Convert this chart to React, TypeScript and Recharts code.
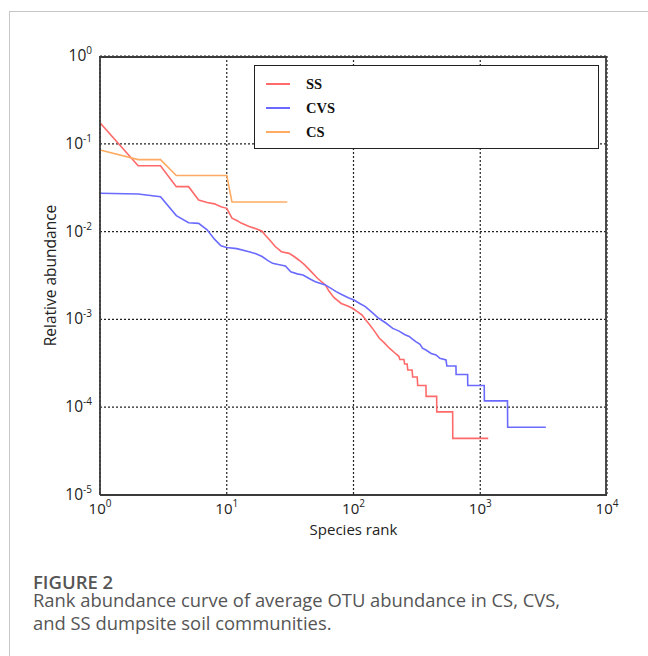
import React from "react";
import { LineChart, Line, XAxis, YAxis, CartesianGrid } from "recharts";

// rank abundance (rank, relative abundance)
const ssRank = [1, 2, 3, 4, 5, 6, 7, 8, 9, 10, 11, 12, 13, 15, 17, 19, 20, 22, 24, 27, 31, 34, 37, 41, 45, 52, 60, 64, 70, 80, 90, 98, 108, 117, 126, 135, 144, 160, 175, 192, 210, 228, 232, 250, 253, 265, 268, 290, 293, 318, 321, 373, 374, 453, 454, 606, 607, 1156];
const ssValue = [0.174, 0.0563, 0.0563, 0.0325, 0.0325, 0.0229, 0.0215, 0.0207, 0.0192, 0.0184, 0.0142, 0.0134, 0.0125, 0.0114, 0.0108, 0.0101, 0.0092, 0.0079, 0.0068, 0.0059, 0.00565, 0.0052, 0.00475, 0.0042, 0.00366, 0.00294, 0.00247, 0.0021, 0.00178, 0.00152, 0.00142, 0.00134, 0.00122, 0.00112, 0.00097, 0.00086, 0.00076, 0.00061, 0.00054, 0.00047, 0.00042, 0.00038, 0.00035, 0.00035, 0.00031, 0.00031, 0.000265, 0.000265, 0.000221, 0.000221, 0.000177, 0.000177, 0.000133, 0.000133, 0.0000885, 0.0000885, 0.0000442, 0.0000442];

const cvsRank = [1, 2, 3, 4, 5, 6, 7, 8, 9, 10, 12, 15, 17, 19, 21, 23, 26, 29, 32, 36, 40, 45, 50, 60, 73, 82, 92, 101, 112, 124, 140, 158, 180, 204, 227, 255, 275, 290, 310, 335, 350, 373, 410, 448, 480, 537, 545, 643, 645, 795, 797, 1075, 1078, 1640, 1645, 3290];
const cvsValue = [0.0273, 0.0268, 0.025, 0.0152, 0.0126, 0.0124, 0.0105, 0.0082, 0.0069, 0.0066, 0.0064, 0.0059, 0.0056, 0.0052, 0.0047, 0.00435, 0.0042, 0.00406, 0.00349, 0.0033, 0.0032, 0.0029, 0.00269, 0.00247, 0.00207, 0.0019, 0.00175, 0.00166, 0.00152, 0.0014, 0.0012, 0.00103, 0.00091, 0.00079, 0.00074, 0.00067, 0.00064, 0.0006, 0.000557, 0.00052, 0.00047, 0.000448, 0.00041, 0.000393, 0.00036, 0.000345, 0.000295, 0.000295, 0.000236, 0.000236, 0.000177, 0.000177, 0.000118, 0.000118, 0.000059, 0.000059];

const csRank = [1, 2, 3, 4, 10, 11, 30];
const csValue = [0.085, 0.066, 0.066, 0.0436, 0.0436, 0.0217, 0.0217];

const seriesNames = ["SS", "CVS", "CS"];
const seriesColors = ["#ff6a6a", "#6a6aff", "#ffaa62"];

const xMajor = [1, 10, 100, 1000, 10000];
const yMajor = [0.00001, 0.0001, 0.001, 0.01, 0.1, 1];
const minorSteps = [2, 3, 4, 5, 6, 7, 8, 9];

const xMinor = xMajor.slice(0, -1).flatMap((d) => minorSteps.map((m) => m * d));
const yMinor = yMajor.slice(0, -1).flatMap((d) => minorSteps.map((m) => m * d));

const captionTitle = "FIGURE 2";
const captionLines = [
  "Rank abundance curve of average OTU abundance in CS, CVS,",
  "and SS dumpsite soil communities.",
];

const toRows = (ranks: number[], values: number[]) =>
  ranks.map((rank, i) => ({ rank, value: values[i] }));

const series = [
  toRows(ssRank, ssValue),
  toRows(cvsRank, cvsValue),
  toRows(csRank, csValue),
];

const frame = "#3a3a3a";
const tickFont = "'Open Sans', sans-serif";

const XTick = (props: any) => {
  const { x, y, payload } = props;
  const exp = Math.round(Math.log10(payload.value));
  return (
    <text x={x} y={y + 11} textAnchor="middle" fontFamily={tickFont} fontSize={15} fill="#222">
      10
      <tspan dy={-7} fontSize={10}>
        {exp}
      </tspan>
    </text>
  );
};

const YTick = (props: any) => {
  const { x, y, payload } = props;
  const exp = Math.round(Math.log10(payload.value));
  return (
    <text x={x} y={y + 5} textAnchor="end" fontFamily={tickFont} fontSize={15.5} fill="#222">
      10
      <tspan dy={-7} fontSize={10}>
        {exp}
      </tspan>
    </text>
  );
};

const App = () => {
  return (
    <div
      style={{
        position: "absolute",
        left: 0,
        top: 0,
        width: 648,
        height: 656,
        overflow: "hidden",
        background: "#fff",
      }}
    >
      {/* card border, right and bottom edges run off the page */}
      <div
        style={{
          position: "absolute",
          left: 9,
          top: 11,
          width: 700,
          height: 700,
          border: "1px solid #c6c6c6",
        }}
      />

      <div style={{ position: "absolute", left: 0, top: 0 }}>
        <LineChart width={648} height={560} margin={{ top: 56, right: 41, bottom: 25, left: 40 }}>
          <CartesianGrid stroke="#222" strokeDasharray="2 2" strokeWidth={1.2} />

          <XAxis
            dataKey="rank"
            type="number"
            scale="log"
            domain={[1, 10000]}
            allowDataOverflow
            ticks={xMajor}
            tick={<XTick />}
            tickLine={false}
            height={40}
            axisLine={{ stroke: frame, strokeWidth: 1.8 }}
            label={{
              value: "Species rank",
              position: "insideBottom",
              offset: 0,
              fontFamily: tickFont,
              fontSize: 15,
              fill: "#222",
            }}
          />
          <XAxis xAxisId="bMinor" type="number" scale="log" domain={[1, 10000]} allowDataOverflow ticks={xMinor} orientation="bottom" mirror height={1} tick={false} tickSize={4} axisLine={false} tickLine={{ stroke: frame, strokeWidth: 1.3 }} />
          <XAxis xAxisId="top" type="number" scale="log" domain={[1, 10000]} allowDataOverflow ticks={xMajor} orientation="top" mirror height={1} tick={false} tickSize={7} axisLine={{ stroke: frame, strokeWidth: 1.8 }} tickLine={{ stroke: frame, strokeWidth: 1.3 }} />
          <XAxis xAxisId="tMinor" type="number" scale="log" domain={[1, 10000]} allowDataOverflow ticks={xMinor} orientation="top" mirror height={1} tick={false} tickSize={4} axisLine={false} tickLine={{ stroke: frame, strokeWidth: 1.3 }} />

          <YAxis
            type="number"
            scale="log"
            domain={[0.00001, 1]}
            allowDataOverflow
            ticks={yMajor}
            tick={<YTick />}
            tickLine={false}
            width={60}
            axisLine={{ stroke: frame, strokeWidth: 1.8 }}
            label={{
              value: "Relative abundance",
              angle: -90,
              position: "insideLeft",
              offset: 10,
              fontFamily: tickFont,
              fontSize: 15.5,
              fill: "#222",
              style: { textAnchor: "middle" },
            }}
          />
          <YAxis yAxisId="lMinor" type="number" scale="log" domain={[0.00001, 1]} allowDataOverflow ticks={yMinor} orientation="left" mirror width={1} tick={false} tickSize={4} axisLine={false} tickLine={{ stroke: frame, strokeWidth: 1.3 }} />
          <YAxis yAxisId="right" type="number" scale="log" domain={[0.00001, 1]} allowDataOverflow ticks={yMajor} orientation="right" mirror width={1} tick={false} tickSize={7} axisLine={{ stroke: frame, strokeWidth: 1.8 }} tickLine={{ stroke: frame, strokeWidth: 1.3 }} />
          <YAxis yAxisId="rMinor" type="number" scale="log" domain={[0.00001, 1]} allowDataOverflow ticks={yMinor} orientation="right" mirror width={1} tick={false} tickSize={4} axisLine={false} tickLine={{ stroke: frame, strokeWidth: 1.3 }} />

          {series.map((rows, i) => (
            <Line
              key={seriesNames[i]}
              data={rows}
              dataKey="value"
              name={seriesNames[i]}
              type="linear"
              stroke={seriesColors[i]}
              strokeWidth={1.6}
              dot={false}
              activeDot={false}
              isAnimationActive={false}
            />
          ))}
        </LineChart>
      </div>

      {/* legend box */}
      <div
        style={{
          position: "absolute",
          left: 254,
          top: 65,
          width: 343,
          height: 82,
          border: "1.5px solid #222",
          background: "#fff",
        }}
      >
        {seriesNames.map((name, i) => (
          <div
            key={name}
            style={{
              position: "absolute",
              left: 11,
              top: 8 + i * 24,
              height: 20,
              display: "flex",
              alignItems: "center",
            }}
          >
            <div style={{ width: 24, height: 2, background: seriesColors[i] }} />
            <span
              style={{
                marginLeft: 16,
                fontFamily: "'Liberation Serif', serif",
                fontWeight: "bold",
                fontSize: 14.5,
                color: "#111",
              }}
            >
              {name}
            </span>
          </div>
        ))}
      </div>

      {/* caption */}
      <div
        style={{
          position: "absolute",
          left: 33,
          top: 574,
          fontFamily: "'Open Sans', sans-serif",
          fontSize: 18.5,
          fontWeight: 600,
          lineHeight: "16px",
          color: "#555",
          whiteSpace: "nowrap",
        }}
      >
        {captionTitle}
      </div>
      {captionLines.map((line, i) => (
        <div
          key={i}
          style={{
            position: "absolute",
            left: 33,
            top: 590 + i * 23,
            fontFamily: "'Open Sans', sans-serif",
            fontSize: 18.4,
            lineHeight: "19px",
            color: "#555",
            whiteSpace: "nowrap",
          }}
        >
          {line}
        </div>
      ))}
    </div>
  );
};

export default App;
